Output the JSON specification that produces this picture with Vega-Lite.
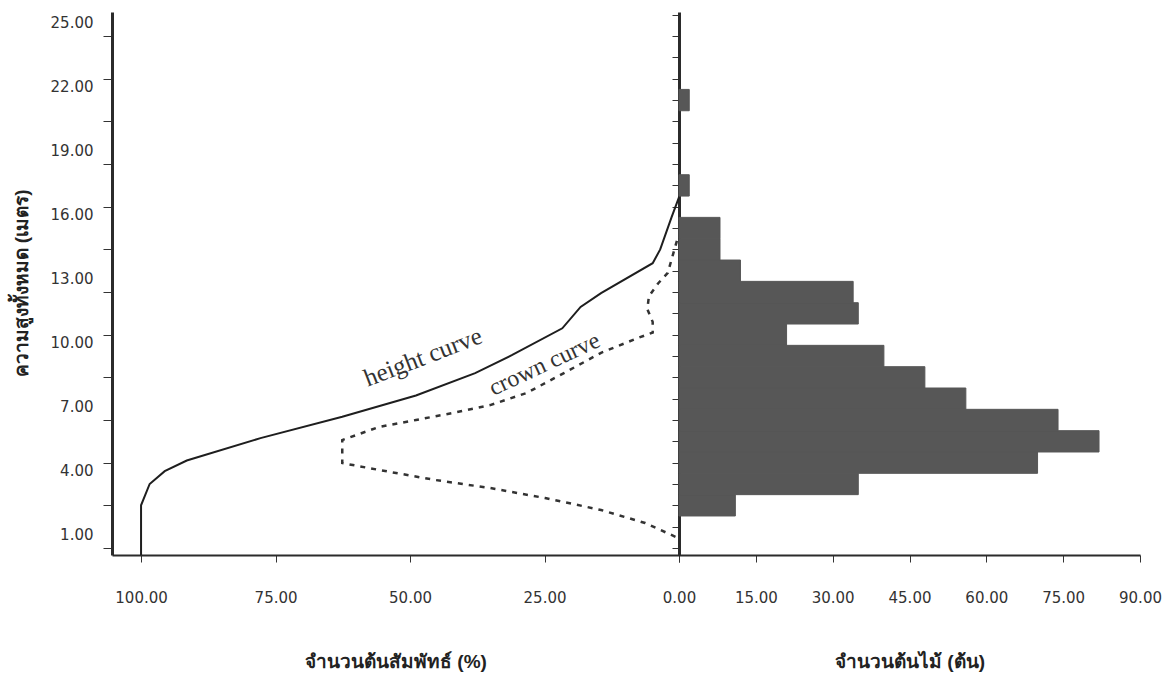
{
  "$schema": "https://vega.github.io/schema/vega-lite/v6.json",
  "width": 1028,
  "height": 543,
  "autosize": {"type": "none"},
  "padding": {"left": 112, "top": 12, "right": 27, "bottom": 122},
  "background": "white",
  "config": {
    "view": {"stroke": null},
    "axis": {"grid": false, "labelFont": "DejaVu Sans", "labelFontSize": 15, "labelColor": "#333333", "tickColor": "#333333", "domainColor": "#2b2b2b", "titleFont": "Liberation Sans", "titleColor": "#222222", "titleFontSize": 19, "titleFontWeight": "bold", "labelOverlap": false}
  },
  "datasets": {
    "height": [
      {"i": 0, "h": -0.33, "pct": 100},
      {"i": 1, "h": 2.0, "pct": 100},
      {"i": 2, "h": 3.0, "pct": 98.4},
      {"i": 3, "h": 3.6, "pct": 95.6},
      {"i": 4, "h": 4.1, "pct": 91.5},
      {"i": 5, "h": 5.15, "pct": 77.8},
      {"i": 6, "h": 6.15, "pct": 62.6},
      {"i": 7, "h": 7.15, "pct": 48.9},
      {"i": 8, "h": 8.2, "pct": 37.9},
      {"i": 9, "h": 9.05, "pct": 31.0},
      {"i": 10, "h": 10.3, "pct": 21.7},
      {"i": 11, "h": 11.3, "pct": 18.3},
      {"i": 12, "h": 11.95, "pct": 14.5},
      {"i": 13, "h": 13.35, "pct": 4.9},
      {"i": 14, "h": 14.0, "pct": 3.5},
      {"i": 15, "h": 15.5, "pct": 1.4},
      {"i": 16, "h": 16.45, "pct": 0}
    ],
    "crown": [
      {"i": 0, "h": 14.4, "pct": 0.4},
      {"i": 1, "h": 12.9, "pct": 2.1},
      {"i": 2, "h": 12.4, "pct": 3.9},
      {"i": 3, "h": 11.8, "pct": 5.6},
      {"i": 4, "h": 11.2, "pct": 5.9},
      {"i": 5, "h": 10.6, "pct": 4.9},
      {"i": 6, "h": 10.1, "pct": 4.9},
      {"i": 7, "h": 9.85, "pct": 7.6},
      {"i": 8, "h": 9.15, "pct": 14.5},
      {"i": 9, "h": 8.2, "pct": 21.4},
      {"i": 10, "h": 7.27, "pct": 28.3},
      {"i": 11, "h": 6.7, "pct": 35.1},
      {"i": 12, "h": 6.33, "pct": 42.0},
      {"i": 13, "h": 6.0, "pct": 48.9},
      {"i": 14, "h": 5.67, "pct": 55.8},
      {"i": 15, "h": 5.06, "pct": 62.6},
      {"i": 16, "h": 3.98, "pct": 62.6},
      {"i": 17, "h": 3.66, "pct": 55.8},
      {"i": 18, "h": 3.19, "pct": 45.4},
      {"i": 19, "h": 2.81, "pct": 35.1},
      {"i": 20, "h": 2.34, "pct": 24.9},
      {"i": 21, "h": 1.78, "pct": 14.5},
      {"i": 22, "h": 1.17, "pct": 6.3},
      {"i": 23, "h": 0.47, "pct": 0.2}
    ],
    "bars": [
      {"lo": 1.5, "hi": 2.5, "n": 11},
      {"lo": 2.5, "hi": 3.5, "n": 35},
      {"lo": 3.5, "hi": 4.5, "n": 70},
      {"lo": 4.5, "hi": 5.5, "n": 82},
      {"lo": 5.5, "hi": 6.5, "n": 74},
      {"lo": 6.5, "hi": 7.5, "n": 56},
      {"lo": 7.5, "hi": 8.5, "n": 48},
      {"lo": 8.5, "hi": 9.5, "n": 40},
      {"lo": 9.5, "hi": 10.5, "n": 21},
      {"lo": 10.5, "hi": 11.5, "n": 35},
      {"lo": 11.5, "hi": 12.5, "n": 34},
      {"lo": 12.5, "hi": 13.5, "n": 12},
      {"lo": 13.5, "hi": 14.5, "n": 8},
      {"lo": 14.5, "hi": 15.5, "n": 8},
      {"lo": 16.5, "hi": 17.5, "n": 2},
      {"lo": 20.5, "hi": 21.5, "n": 2}
    ],
    "notes": [
      {"label": "height curve", "h": 8.95, "pct": 47.6},
      {"label": "crown curve", "h": 8.6, "pct": 25.0}
    ]
  },
  "layer": [
    {
      "layer": [
        {
          "data": {"name": "height"},
          "mark": {"type": "line", "color": "#1e1e1e", "strokeWidth": 2},
          "encoding": {
            "x": {"field": "pct", "type": "quantitative",
              "scale": {"domain": [-85.68, 105.4], "reverse": true, "nice": false, "zero": false},
              "axis": {"orient": "bottom", "values": [100, 75, 50, 25, 0], "labelExpr": "datum.value == 0 ? '' : format(datum.value, '.2f')", "domain": false, "tickSize": 7, "labelPadding": 28, "labelFlush": false, "labelOverlap": false, "title": "จำนวนต้นสัมพัทธ์ (%)", "titleX": 283.5, "titleY": 106, "titleAlign": "center", "titleBaseline": "middle"}},
            "y": {"field": "h", "type": "quantitative",
              "scale": {"domain": [-0.33, 25.13], "nice": false, "zero": false},
              "axis": {"orient": "left", "values": [0,1,2,3,4,5,6,7,8,9,10,11,12,13,14,15,16,17,18,19,20,21,22,23,24,25], "labels": false, "tickSize": 9, "domainWidth": 3, "title": "ความสูงทั้งหมด (เมตร)", "titleAngle": -90, "titleX": -91, "titleY": 271, "titleAlign": "center", "titleBaseline": "middle"}},
            "order": {"field": "i", "type": "quantitative"}
          }
        },
        {
          "data": {"name": "crown"},
          "mark": {"type": "line", "color": "#333333", "strokeWidth": 2.5, "strokeDash": [5, 6]},
          "encoding": {
            "x": {"field": "pct", "type": "quantitative"},
            "y": {"field": "h", "type": "quantitative"},
            "order": {"field": "i", "type": "quantitative"}
          }
        }
      ]
    },
    {
      "data": {"name": "notes"},
      "encoding": {
        "x": {"field": "pct", "type": "quantitative",
          "scale": {"domain": [-85.68, 105.4], "reverse": true, "nice": false, "zero": false},
          "axis": null},
        "y": {"field": "h", "type": "quantitative",
          "scale": {"domain": [-0.33, 25.13], "nice": false, "zero": false},
          "axis": {"orient": "left", "values": [1, 4, 7, 10, 13, 16, 19, 22, 25], "format": ".2f", "labelOverlap": false, "labelBound": false, "ticks": false, "domain": false, "labelPadding": 19, "labelOffset": 8, "title": null}},
        "text": {"field": "label"}
      },
      "layer": [
        {
          "transform": [{"filter": "datum.label == 'height curve'"}],
          "mark": {"type": "text", "font": "Liberation Serif", "fontSize": 25, "angle": -21, "color": "#333333"}
        },
        {
          "transform": [{"filter": "datum.label == 'crown curve'"}],
          "mark": {"type": "text", "font": "Liberation Serif", "fontSize": 24, "angle": -25, "color": "#333333"}
        }
      ]
    },
    {
      "data": {"name": "bars"},
      "mark": {"type": "rect", "color": "#575757", "stroke": "#575757", "strokeWidth": 1},
      "encoding": {
        "x": {"field": "n", "type": "quantitative",
          "scale": {"domain": [-110.7, 90], "nice": false, "zero": false},
          "axis": {"orient": "bottom", "values": [0, 15, 30, 45, 60, 75, 90], "format": ".2f", "domain": true, "domainWidth": 2, "tickSize": 7, "labelPadding": 28, "labelFlush": false, "labelOverlap": false, "title": "จำนวนต้นไม้ (ต้น)", "titleX": 797.5, "titleY": 106, "titleAlign": "center", "titleBaseline": "middle"}},
        "x2": {"datum": 0},
        "y": {"field": "lo", "type": "quantitative",
          "scale": {"domain": [-0.33, 25.13], "nice": false, "zero": false},
          "axis": {"orient": "right", "offset": -461, "values": [0,1,2,3,4,5,6,7,8,9,10,11,12,13,14,15,16,17,18,19,20,21,22,23,24,25], "labels": false, "tickSize": -7, "domainWidth": 3, "title": null}},
        "y2": {"field": "hi"}
      }
    }
  ],
  "resolve": {"scale": {"x": "independent"}, "axis": {"x": "independent", "y": "independent"}}
}
